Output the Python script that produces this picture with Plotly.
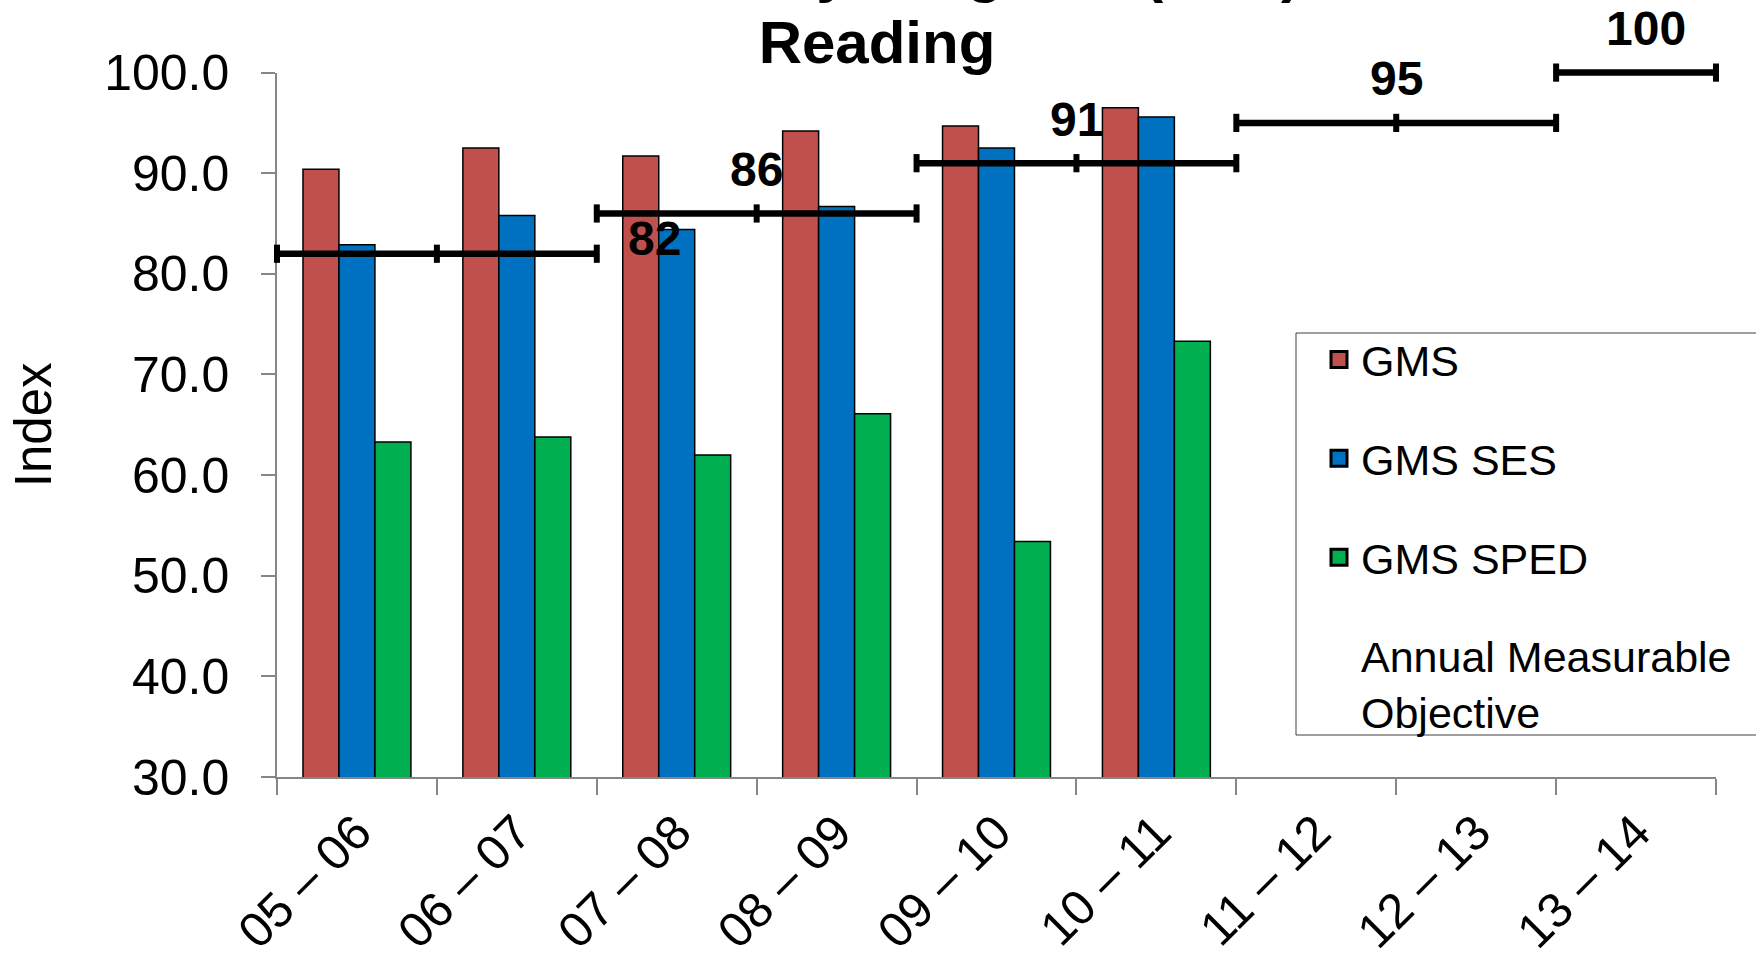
import plotly.graph_objects as go

# School years on the category axis
years = ["05 – 06", "06 – 07", "07 – 08", "08 – 09", "09 – 10",
         "10 – 11", "11 – 12", "12 – 13", "13 – 14"]

# Reading index by group (no results yet for the last three years)
gms = [90.4, 92.5, 91.7, 94.2, 94.7, 96.5, None, None, None]
gms_ses = [82.9, 85.8, 84.4, 86.7, 92.5, 95.6, None, None, None]
gms_sped = [63.3, 63.8, 62.0, 66.1, 53.4, 73.3, None, None, None]

# Annual Measurable Objective for each school year
amo = [82, 82, 86, 86, 91, 91, 95, 95, 100]

series_names = ["GMS", "GMS SES", "GMS SPED"]
series_values = [gms, gms_ses, gms_sped]
series_colors = ["#C0504D", "#0070C0", "#00B050"]

FONT = "Arial, Liberation Sans, sans-serif"
AXIS_GREY = "#868686"

# Page geometry (px)
W, H = 1756, 958
M_L, M_R, M_T, M_B = 277, 40, 30, 181
PLOT_W = W - M_L - M_R
PLOT_H = H - M_T - M_B
BOTTOM = H - M_B
AXIS_TOP = 72.6          # pixel row of the 100.0 tick
Y_MIN, Y_MAX = 30, 100
dom = (BOTTOM - AXIS_TOP) / PLOT_H


def px_x(px):
    return (px - M_L) / PLOT_W


def px_y(py):
    return (BOTTOM - py) / PLOT_H


fig = go.Figure()

for name, vals, color in zip(series_names, series_values, series_colors):
    fig.add_trace(go.Bar(
        x=years, y=vals, name=name, showlegend=False, legendgroup=name,
        marker=dict(color=color, line=dict(color="black", width=1.5)),
    ))
    # legend swatch for the series
    fig.add_trace(go.Scatter(
        x=[None], y=[None], mode="markers", name=name, legendgroup=name,
        marker=dict(symbol="square", size=16, color=color,
                    line=dict(color="black", width=3)),
    ))

# Group consecutive years that share the same objective into runs
runs = []
for i, v in enumerate(amo):
    if runs and runs[-1][2] == v:
        runs[-1][1] = i + 1
    else:
        runs.append([i, i + 1, v])

line_x, line_y = [], []
for start, end, v in runs:
    pts = list(range(start, end + 1))
    line_x += pts + [None]
    line_y += [v] * len(pts) + [None]

# Objective steps live on a taller overlay subplot so the 100 step is not clipped
fig.add_trace(go.Scatter(
    x=line_x, y=line_y, xaxis="x2", yaxis="y2", mode="lines+markers",
    showlegend=False,
    line=dict(color="black", width=6.5),
    marker=dict(symbol="line-ns", size=13, color="black",
                line=dict(color="black", width=6)),
    cliponaxis=False,
))
fig.add_trace(go.Scatter(
    x=[None], y=[None], mode="markers", name="Annual Measurable<br>Objective",
    legend="legend2",
    marker=dict(size=16, color="rgba(0,0,0,0)"),
))

# Objective labels: first one sits right of its run, the others above the run centre
label_pos = ["right", "above", "above", "above", "above"]
for (start, end, v), pos in zip(runs, label_pos):
    if pos == "right":
        x, xs, ys = end, 58, 15
    else:
        x, xs, ys = (start + end) / 2, 0, 44
    if end - start == 1:
        xs += 10
    fig.add_annotation(
        x=x, y=v, xref="x2", yref="y2", text=str(v), showarrow=False,
        xshift=xs, yshift=ys,
        font=dict(family=FONT, size=48, color="black", weight="bold"),
    )

# First title line runs off the top of the page
fig.add_annotation(
    text="Annual Yearly Progress (AYP)", xref="paper", yref="paper",
    x=px_x(877), y=px_y(6), xanchor="center", yanchor="bottom",
    showarrow=False,
    font=dict(family=FONT, size=60, color="black", weight="bold"),
)

# Legend frame, running past the right edge of the page
fig.add_shape(
    type="rect", xref="paper", yref="paper",
    x0=px_x(1296), x1=px_x(1820), y0=px_y(735), y1=px_y(333),
    line=dict(color="#404040", width=1), fillcolor="white", layer="below",
)

legend_common = dict(
    x=px_x(1317), xanchor="left", yanchor="top",
    bgcolor="rgba(0,0,0,0)", borderwidth=0,
    font=dict(family=FONT, size=43, color="black"),
    itemwidth=34,
)

fig.update_layout(
    width=W, height=H,
    margin=dict(l=M_L, r=M_R, t=M_T, b=M_B, autoexpand=False),
    paper_bgcolor="white", plot_bgcolor="rgba(0,0,0,0)",
    font=dict(family=FONT, color="black"),
    title=dict(text="<b>Reading</b>", x=877 / W, xanchor="center",
               y=1 - 21 / H, yanchor="top", yref="container",
               font=dict(family=FONT, size=60, color="black")),
    barmode="group", bargap=0.325, bargroupgap=0,
    showlegend=True,
    legend=dict(y=px_y(325), tracegroupgap=40, traceorder="grouped",
                **legend_common),
    legend2=dict(y=px_y(621), **legend_common),
    xaxis=dict(
        domain=[0, 1], anchor="y",
        type="category", categoryorder="array", categoryarray=years,
        range=[-0.5, len(years) - 0.5],
        showline=True, linecolor=AXIS_GREY, linewidth=1.5,
        ticks="outside", tickson="boundaries", ticklen=16,
        tickcolor=AXIS_GREY, tickwidth=1.5,
        tickangle=-45, tickfont=dict(family=FONT, size=49, color="black"),
        ticklabelstandoff=5,
        showgrid=False, zeroline=False,
    ),
    yaxis=dict(
        domain=[0, dom], anchor="x",
        range=[Y_MIN, Y_MAX], dtick=10, tickformat=".1f",
        showline=True, linecolor=AXIS_GREY, linewidth=1.5,
        ticks="outside", ticklen=14, tickcolor=AXIS_GREY, tickwidth=1.5,
        tickfont=dict(family=FONT, size=50, color="black"),
        ticklabelstandoff=22,
        showgrid=False, zeroline=False,
        title=dict(text="Index", font=dict(family=FONT, size=51, color="black"),
                   standoff=36),
    ),
    xaxis2=dict(
        domain=[0, 1], anchor="y2", range=[0, len(years)], visible=False,
        showgrid=False, zeroline=False,
    ),
    yaxis2=dict(
        domain=[0, 1], anchor="x2",
        range=[Y_MIN, Y_MIN + (Y_MAX - Y_MIN) / dom], visible=False,
        showgrid=False, zeroline=False,
    ),
)

fig.write_html("out.html")
